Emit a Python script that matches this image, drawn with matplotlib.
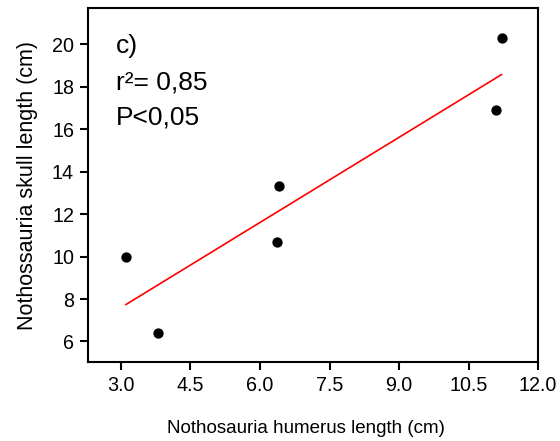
import numpy as np
import matplotlib
matplotlib.use("Agg")
import matplotlib.pyplot as plt

plt.rcParams['font.family'] = ['Liberation Sans', 'DejaVu Sans']

humerus = [3.11, 3.80, 6.36, 6.42, 11.08, 11.21]
skull = [10.0, 6.38, 10.70, 13.33, 16.93, 20.31]
xticks = [3.0, 4.5, 6.0, 7.5, 9.0, 10.5, 12.0]
yticks = [6, 8, 10, 12, 14, 16, 18, 20]
annot = ["c)", "r²= 0,85", "P<0,05"]

fig = plt.figure(figsize=(5.6, 4.41), dpi=100)
ax = fig.add_axes([0.157, 0.179, 0.804, 0.802])

x = np.array(humerus)
y = np.array(skull)
ax.scatter(x, y, s=55, color='black', zorder=3, linewidths=0)
m, b = np.polyfit(x, y, 1)
xl = np.array([x.min(), x.max()])
ax.plot(xl, m * xl + b, color='red', lw=1.2, zorder=2)

ax.set_xlim(2.29, 12.0)
ax.set_ylim(5.03, 21.7)
ax.set_xticks(xticks)
ax.set_xticklabels([f"{v:.1f}" for v in xticks])
ax.set_yticks(yticks)
ax.set_yticklabels([str(v) for v in yticks])
ax.tick_params(direction='out', length=6, width=1.5, labelsize=14.2, pad=4)
for s in ax.spines.values():
    s.set_linewidth(1.5)

ax.set_xlabel("Nothosauria humerus length (cm)", fontsize=13.5)
ax.xaxis.set_label_coords(0.484, -0.165)
ax.set_ylabel("Nothossauria skull length (cm)", fontsize=15.5, labelpad=10)

ypos = [0.873, 0.771, 0.672]
for t, yp in zip(annot, ypos):
    ax.text(0.062, yp, t, transform=ax.transAxes, fontsize=19, va='baseline', ha='left')

fig.savefig("out.png", dpi=100)
